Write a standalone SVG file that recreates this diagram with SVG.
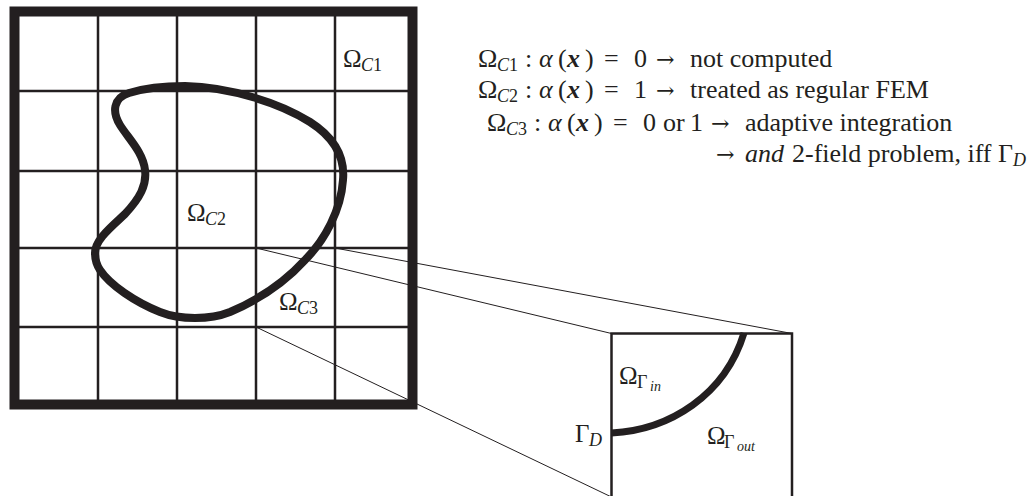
<svg xmlns="http://www.w3.org/2000/svg" width="1031" height="496" viewBox="0 0 1031 496">
<style>
.ink{stroke:#231f20;fill:none}
.frame{stroke-width:10}
.gl{stroke-width:2.5}
.thin{stroke:#231f20;stroke-width:1;fill:none}
.blob{stroke:#231f20;stroke-width:8;fill:none}
.t{font-family:"Liberation Serif","Times New Roman",serif;font-size:26px;fill:#231f20}
.l{font-family:"Liberation Serif","Times New Roman",serif;font-size:25px;fill:#231f20}
.it{font-style:italic}
.bi{font-style:italic;font-weight:bold}
.s{font-size:18px}
.ss{font-size:14px}
.ar{font-family:"DejaVu Serif",serif;font-size:22px}
</style>
<rect width="1031" height="496" fill="#ffffff"/>
<g id="connectors">
<line class="thin" x1="256" y1="248" x2="611.5" y2="333.5"/>
<line class="thin" x1="335" y1="248" x2="792" y2="333.5"/>
<line class="thin" x1="256" y1="327" x2="611.5" y2="497"/>
</g>
<g id="mesh">
<rect class="ink frame" x="14.5" y="11.5" width="398" height="393"/>
<path class="ink gl" d="M98,16V400M177,16V400M256,16V400M335,16V400M19,91H408M19,171H408M19,248H408M19,327H408"/>
</g>
<g id="domain">
<path class="blob" d="M95,253 C95,240 110,228 125,214 C140,198 147,185 145,170 C143,152 128,138 120,125 C112,112 113,98 129,93 C145,88 165,86 185,86 C230,87 280,103 310,122 C335,138 345,158 343,180 C341,210 325,240 305,260 C285,282 258,300 230,312 C210,320 180,320 160,312 C135,302 110,285 100,270 C96,264 95,258 95,253 Z"/>
</g>
<g id="zoom-cell">
<path class="ink gl" d="M611.5,500V333.5H792V500"/>
<path class="ink" stroke-width="7" d="M611.5,433 C670,430 725,395 744,333"/>
</g>
<g id="labels">
<text class="l" x="343" y="67">Ω<tspan class="s it" x="361" dy="4">C</tspan><tspan class="s">1</tspan></text>
<text class="l" x="187" y="221">Ω<tspan class="s it" x="205" dy="4">C</tspan><tspan class="s">2</tspan></text>
<text class="l" x="279" y="310">Ω<tspan class="s it" x="297" dy="4">C</tspan><tspan class="s">3</tspan></text>
<text class="l" x="619" y="384">Ω<tspan class="s" x="637" dy="4">Γ</tspan><tspan class="ss it" x="650" dy="3">in</tspan></text>
<text class="l" x="575" y="442">Γ<tspan class="s it" x="589" dy="4">D</tspan></text>
<text class="l" x="707" y="444">Ω<tspan class="s" x="724" dy="4">Γ</tspan><tspan class="ss it" x="737" dy="3">out</tspan></text>
</g>
<g id="legend">
<text class="t" y="67"><tspan x="478">Ω</tspan><tspan class="s it" x="497" dy="4">C</tspan><tspan class="s">1</tspan><tspan x="525" dy="-4">:</tspan><tspan class="it" x="539">α</tspan><tspan x="558">(</tspan><tspan class="bi" x="567">x</tspan><tspan x="585">)</tspan><tspan x="604">=</tspan><tspan x="634">0</tspan><tspan class="ar" x="656">→</tspan><tspan x="690">not computed</tspan></text>
<text class="t" y="98"><tspan x="478">Ω</tspan><tspan class="s it" x="497" dy="4">C</tspan><tspan class="s">2</tspan><tspan x="525" dy="-4">:</tspan><tspan class="it" x="539">α</tspan><tspan x="558">(</tspan><tspan class="bi" x="567">x</tspan><tspan x="585">)</tspan><tspan x="604">=</tspan><tspan x="634">1</tspan><tspan class="ar" x="656">→</tspan><tspan x="690">treated as regular FEM</tspan></text>
<text class="t" y="131"><tspan x="487">Ω</tspan><tspan class="s it" x="506" dy="4">C</tspan><tspan class="s">3</tspan><tspan x="534" dy="-4">:</tspan><tspan class="it" x="548">α</tspan><tspan x="567">(</tspan><tspan class="bi" x="576">x</tspan><tspan x="594">)</tspan><tspan x="613">=</tspan><tspan x="643">0</tspan><tspan x="663">or</tspan><tspan x="690">1</tspan><tspan class="ar" x="711">→</tspan><tspan x="745">adaptive integration</tspan></text>
<text class="t" y="162" font-size="24"><tspan class="ar" x="716">→</tspan><tspan class="it" x="745">and</tspan><tspan x="792">2-field problem, iff Γ</tspan><tspan class="s it" dy="4">D</tspan></text>
</g>
</svg>
